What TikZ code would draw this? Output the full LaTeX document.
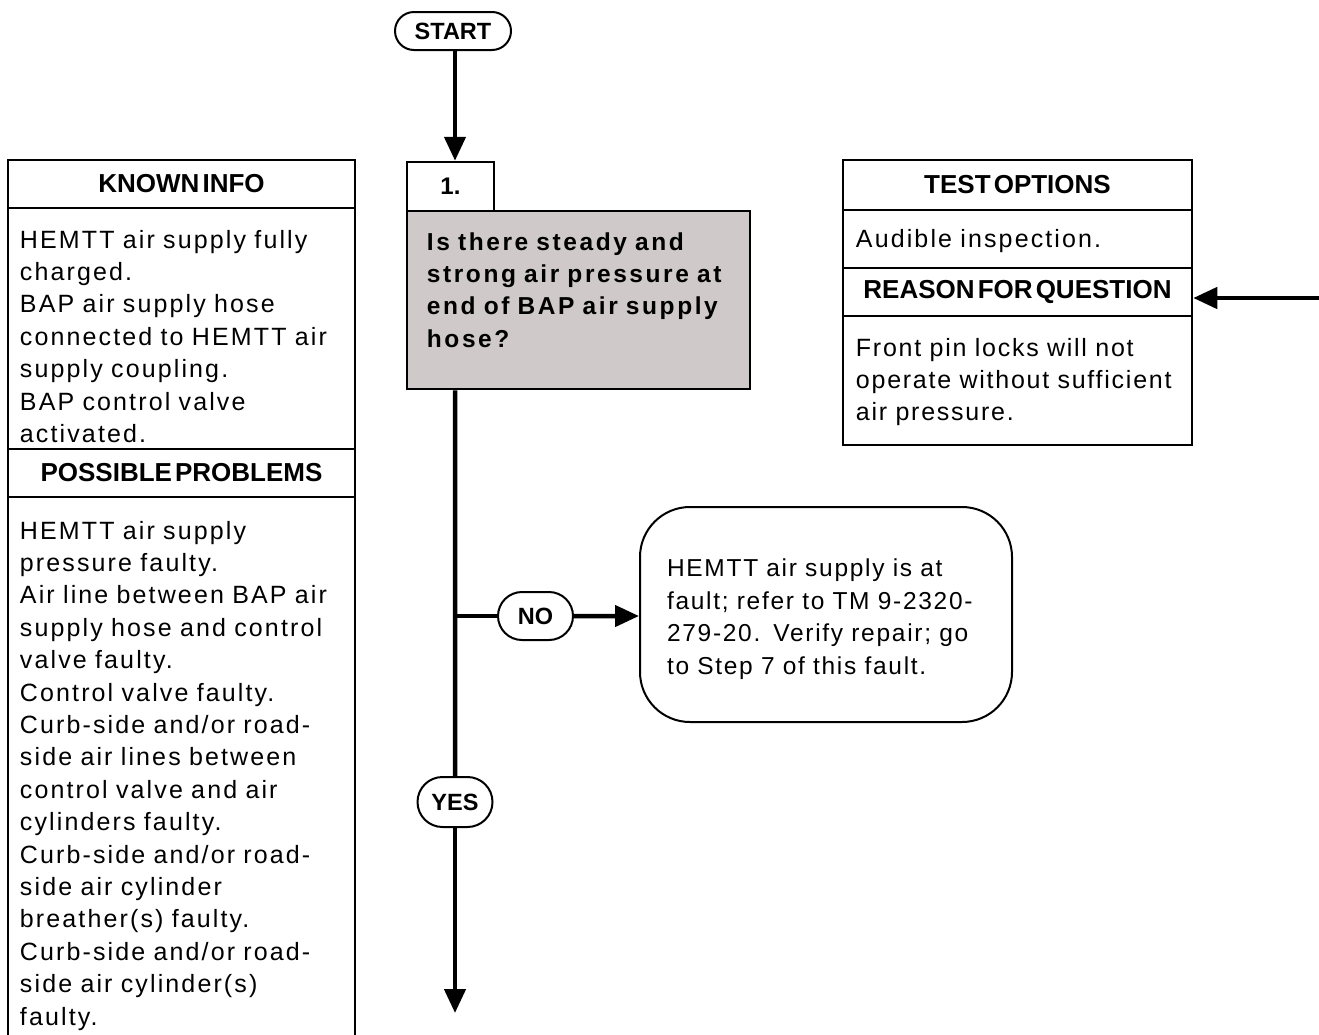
\documentclass[tikz,border=0pt]{standalone}
\usepackage{fontspec}
\setmainfont{Liberation Sans}
\newfontfamily\bodyfont[LetterSpace=8.5]{Liberation Sans}
\newfontfamily\resfont[LetterSpace=7]{Liberation Sans}
\newfontfamily\quesfont[LetterSpace=10.5]{Liberation Sans}
\newcommand\hdrfont{\bfseries\fontsize{26}{30}\selectfont\spaceskip=0.12em\relax}
\usepackage{xcolor}
\usetikzlibrary{positioning, shapes.misc, arrows.meta}

\definecolor{qgray}{RGB}{207,201,201}

\begin{document}
\begin{tikzpicture}[x=1pt, y=-1pt,
  hdr/.style={draw, line width=2.5pt, inner sep=0pt, font=\hdrfont},
  cell/.style={draw, line width=2.5pt, inner sep=0pt},
  txt/.style={inner sep=0pt, align=left, text width=335, font=\bodyfont\fontsize{25}{32.4}\selectfont},
  qtxt/.style={txt, text width=318, font=\quesfont\bfseries\fontsize{24.5}{32.3}\selectfont},
  pill/.style={draw, rounded rectangle, line width=2pt, inner sep=0pt, font=\bfseries\fontsize{23.5}{28}\selectfont},
  flow/.style={line width=4.5pt, -{Triangle[length=24pt, width=21pt]}},
  trunk/.style={line width=4.5pt}]
  \useasboundingbox (0,0) rectangle (1319,1034);

  % known info panel
  \node[hdr, minimum width=347, minimum height=48] (kiHead) at (181.5,184) {KNOWN INFO};
  \node[cell, minimum width=347, minimum height=241] (kiBody) at (181.5,328.5) {};
  \node[hdr, minimum width=347, minimum height=48] (ppHead) at (181.5,473) {POSSIBLE PROBLEMS};
  \node[cell, minimum width=347, minimum height=563] (ppBody) at (181.5,778.5) {};

  \node[txt, below right=23pt and 13pt of kiBody.north west] (kiText)
    {HEMTT air supply fully\\charged.\\BAP air supply hose\\connected to HEMTT air\\supply coupling.\\BAP control valve\\activated.};
  \node[txt, below right=25pt and 13pt of ppBody.north west] (ppText)
    {HEMTT air supply\\pressure faulty.\\Air line between BAP air\\supply hose and control\\valve faulty.\\Control valve faulty.\\Curb-side and/or road-\\side air lines between\\control valve and air\\cylinders faulty.\\Curb-side and/or road-\\side air cylinder\\breather(s) faulty.\\Curb-side and/or road-\\side air cylinder(s)\\faulty.};

  % test options panel
  \node[hdr, minimum width=349, minimum height=50] (toHead) at (1017.5,185) {TEST OPTIONS};
  \node[cell, minimum width=349, minimum height=58] (toBody) at (1017.5,239) {};
  \node[hdr, minimum width=349, minimum height=48] (rqHead) at (1017.5,292) {REASON FOR QUESTION};
  \node[cell, minimum width=349, minimum height=129] (rqBody) at (1017.5,380.5) {};

  \node[txt, below right=20pt and 14pt of toBody.north west] (toText) {Audible inspection.};
  \node[txt, font=\resfont\fontsize{25}{32.4}\selectfont, below right=23pt and 14pt of rqBody.north west] (rqText)
    {Front pin locks will not\\operate without sufficient\\air pressure.};

  % step 1
  \node[pill, minimum width=116, minimum height=38] (start) at (453,31) {START};
  \node[cell, fill=qgray, minimum width=343, minimum height=178] (q) at (578.5,300) {};
  \node[cell, minimum width=87, minimum height=49, font=\bfseries\fontsize{24}{28}\selectfont] (s1) at (450.5,186.5) {1.};
  \node[qtxt, below right=22.5pt and 21pt of q.north west] (qText)
    {Is there steady and\\strong air pressure at\\end of BAP air supply\\hose?};

  \node[pill, minimum width=75, minimum height=48] (no) at (535.5,616) {NO};
  \node[pill, minimum width=75, minimum height=50] (yes) at (455,802) {YES};
  \node[draw, line width=2pt, rounded corners=50pt, text width=318, inner xsep=27pt,
        minimum height=215, align=left, font=\resfont\fontsize{24.5}{32.5}\selectfont] (res) at (826,614.5)
    {\rule{0pt}{27pt}HEMTT air supply is at\\fault; refer to TM 9-2320-\\279-20.\hspace{13pt}Verify repair; go\\to Step 7 of this fault.};

  \coordinate (down) at (455,1013);
  \coordinate (feed) at (1319,298);

  % connectors
  \draw[flow] ([xshift=2pt]start.south) -- ([xshift=2pt]start.south |- s1.north);
  \draw[trunk] (q.south -| yes) -- (yes);
  \draw[flow] (yes) -- (down);
  \draw[trunk] (no -| yes) -- (no);
  \draw[flow] (no) -- (no -| res.west);
  \draw[flow] (feed) -- ([yshift=-6pt]rqHead.east);
\end{tikzpicture}
\end{document}
